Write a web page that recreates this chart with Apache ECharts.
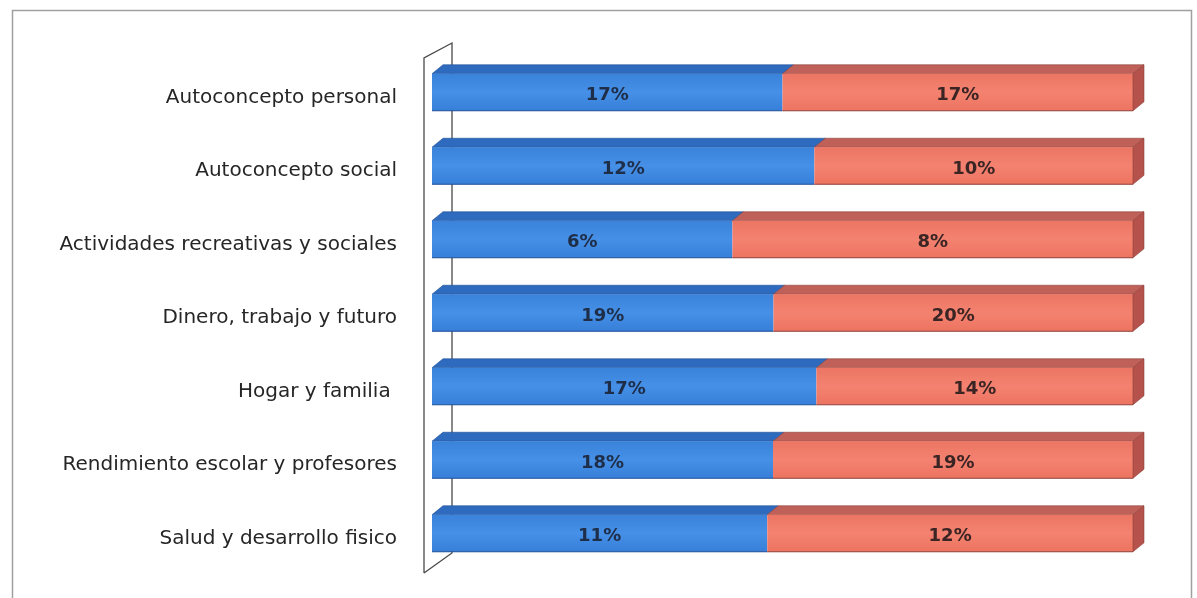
<!DOCTYPE html>
<html>
<head>
<meta charset="utf-8">
<script src="https://cdn.jsdelivr.net/npm/echarts@6/dist/echarts.min.js"></script>
<style>
html,body{margin:0;padding:0;background:#fff;}
#chart{width:1197px;height:598px;}
</style>
</head>
<body>
<div id="chart"></div>
<script>
const categories = [
  'Autoconcepto personal',
  'Autoconcepto social',
  'Actividades recreativas y sociales',
  'Dinero, trabajo y futuro',
  'Hogar y familia ',
  'Rendimiento escolar y profesores',
  'Salud y desarrollo fisico'
];
const blueValues = [17, 12, 6, 19, 17, 18, 11];
const redValues  = [17, 10, 8, 20, 14, 19, 12];

const blueData = categories.map((c, i) => {
  const t = blueValues[i] + redValues[i];
  return [0, blueValues[i] / t, i, blueValues[i] + '%'];
});
const redData = categories.map((c, i) => {
  const t = blueValues[i] + redValues[i];
  return [blueValues[i] / t, 1, i, redValues[i] + '%'];
});

const DX = 11, DY = 9;
function makeRender(front, top, side, edge, lastSide, labelColor) {
  return function (params, api) {
    const s = api.coord([api.value(0), api.value(2)]);
    const e = api.coord([api.value(1), api.value(2)]);
    const cy = s[1];
    const x0 = s[0], x1 = e[0];
    const yT = cy - 24, yB = cy + 13;
    const children = [
      { type: 'polygon', shape: { points: [[x0, yT], [x1, yT], [x1 + DX, yT - DY], [x0 + DX, yT - DY]] },
        style: { fill: top, stroke: edge, lineWidth: 0.6 } },
      { type: 'rect', shape: { x: x0, y: yT, width: x1 - x0, height: yB - yT },
        style: { fill: front } },
      { type: 'line', shape: { x1: x0, y1: yB, x2: x1, y2: yB }, style: { stroke: edge, lineWidth: 1 } }
    ];
    if (lastSide) {
      children.push({ type: 'polygon', shape: { points: [[x1, yT], [x1 + DX, yT - DY], [x1 + DX, yB - DY], [x1, yB]] },
        style: { fill: side, stroke: edge, lineWidth: 0.6 } });
    }
    children.push({ type: 'text', style: { text: api.value(3), x: (x0 + x1) / 2, y: cy - 2,
      align: 'center', verticalAlign: 'middle', fill: labelColor,
      font: 'bold 18px "DejaVu Sans"' } });
    return { type: 'group', children: children };
  };
}

const blueFront = new echarts.graphic.LinearGradient(0, 0, 0, 1, [
  { offset: 0, color: '#3a82da' }, { offset: 0.5, color: '#4690e8' }, { offset: 1, color: '#377fd8' }]);
const redFront = new echarts.graphic.LinearGradient(0, 0, 0, 1, [
  { offset: 0, color: '#ec7563' }, { offset: 0.5, color: '#f48270' }, { offset: 1, color: '#ec7460' }]);

const chart = echarts.init(document.getElementById('chart'), null, { renderer: 'canvas' });
chart.setOption({
  backgroundColor: '#ffffff',
  animation: false,
  grid: { left: 432, right: 64, top: 61, bottom: 22.5, containLabel: false },
  xAxis: { type: 'value', min: 0, max: 1, show: false },
  yAxis: {
    type: 'category', inverse: true, data: categories,
    axisLine: { show: false }, axisTick: { show: false }, splitLine: { show: false },
    axisLabel: { margin: 35, color: '#262626', fontSize: 20, fontFamily: '"DejaVu Sans"' }
  },
  graphic: [
    { type: 'rect', shape: { x: 12.5, y: 10.5, width: 1179, height: 600 },
      style: { fill: 'none', stroke: '#a0a0a0', lineWidth: 1.5 }, z: 0 },
    { type: 'polyline', shape: { points: [[424, 573], [424, 58], [452, 43], [452, 553], [424, 573]] },
      style: { fill: 'none', stroke: '#4a4a4a', lineWidth: 1.3 }, z: 0 }
  ],
  series: [
    { type: 'custom', name: 'A', renderItem: makeRender(blueFront, '#2e6abd', '#2a5fa8', '#1e4f96', false, '#1f2e48'),
      encode: { x: [0, 1], y: 2 }, data: blueData, z: 2 },
    { type: 'custom', name: 'B', renderItem: makeRender(redFront, '#bf6158', '#b5524b', '#8e3f3a', true, '#3a2424'),
      encode: { x: [0, 1], y: 2 }, data: redData, z: 2 }
  ]
});
</script>
</body>
</html>
